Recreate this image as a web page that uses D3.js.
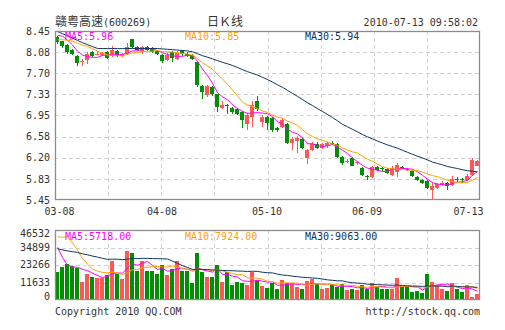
<!DOCTYPE html>
<html><head><meta charset="utf-8">
<script src="https://cdn.jsdelivr.net/npm/d3@7"></script>
<style>body{margin:0;background:#fff}svg{display:block}</style>
</head><body><svg id="c" width="505" height="330"></svg>
<script>
// ---------- data ----------
const open  = [8.34,8.27,8.20,8.11,8.00,7.91,7.93,8.08,8.04,8.03,8.07,8.00,8.10,8.00,8.05,8.31,8.17,8.07,8.16,8.14,
               8.10,8.02,7.93,8.08,7.95,8.10,8.05,8.02,7.90,7.47,7.31,7.45,7.33,7.09,7.13,7.08,7.06,7.01,6.80,6.93,
               7.20,6.84,6.92,6.90,6.72,6.75,6.80,6.46,6.49,6.53,6.20,6.34,6.45,6.38,6.40,6.47,6.45,6.21,6.13,6.20,
               6.10,6.02,5.88,5.86,6.04,6.01,6.00,5.90,5.95,6.04,6.00,5.96,5.86,5.80,5.78,5.62,5.66,5.72,5.76,5.72,
               5.83,5.82,5.80,5.89,6.06];
const high  = [8.36,8.28,8.22,8.13,8.02,7.96,8.08,8.10,8.09,8.08,8.09,8.19,8.12,8.06,8.23,8.31,8.19,8.19,8.18,8.16,
               8.12,8.04,8.06,8.10,8.09,8.12,8.07,8.04,7.92,7.49,7.49,7.48,7.34,7.20,7.15,7.10,7.08,7.03,7.00,7.20,
               7.30,6.96,6.95,6.92,6.75,6.90,6.82,6.56,6.58,6.55,6.36,6.48,6.48,6.47,6.48,6.50,6.46,6.23,6.17,6.21,
               6.15,6.03,5.90,6.06,6.06,6.04,6.02,6.05,6.10,6.06,6.02,5.98,5.88,5.82,5.80,5.75,5.76,5.78,5.77,5.88,
               5.85,5.84,5.91,6.19,6.16];
const low   = [8.22,8.15,8.04,8.02,7.82,7.82,7.86,7.98,8.02,8.01,7.96,7.98,7.98,7.99,8.03,8.15,8.09,8.05,8.09,8.06,
               8.02,7.89,7.91,7.90,7.93,8.01,7.99,7.93,7.46,7.25,7.28,7.30,7.01,7.07,6.97,6.97,6.96,6.73,6.69,6.75,
               7.03,6.75,6.70,6.66,6.65,6.72,6.44,6.33,6.29,6.35,6.09,6.32,6.35,6.36,6.38,6.43,6.20,6.08,6.10,6.05,
               6.08,5.87,5.80,5.84,5.96,5.97,5.91,5.88,5.85,6.00,5.96,5.86,5.78,5.74,5.64,5.45,5.64,5.70,5.62,5.70,
               5.77,5.76,5.78,5.88,6.05];
const close = [8.26,8.18,8.07,8.05,7.89,7.92,8.05,8.00,8.05,8.06,7.97,8.11,8.00,8.04,8.17,8.17,8.11,8.16,8.12,8.08,
               8.05,7.91,8.02,7.97,8.06,8.04,8.01,7.96,7.49,7.37,7.47,7.33,7.10,7.14,7.11,7.02,6.98,6.87,6.96,7.14,
               7.06,6.93,6.82,6.69,6.70,6.87,6.46,6.53,6.55,6.37,6.34,6.45,6.38,6.44,6.46,6.45,6.22,6.10,6.15,6.06,
               6.12,5.89,5.86,6.04,5.98,6.00,5.93,6.02,6.07,6.03,5.98,5.88,5.80,5.76,5.66,5.70,5.74,5.76,5.70,5.82,
               5.80,5.80,5.88,6.16,6.14];
const volume = [18700,21700,23900,22600,21500,12200,17300,15500,14900,14900,16500,26000,17600,14100,32600,31200,19300,25900,19300,19300,
                17600,23100,16600,20800,25900,19300,19300,11500,31500,18700,15500,15500,23300,12100,18600,10000,12000,11500,10000,18900,
                13000,9300,8200,11000,7400,13300,11000,11300,8800,7400,12600,14100,10700,7200,8200,10800,8900,10800,6700,7300,
                6700,10000,7300,11500,8900,7300,7300,7400,14900,8400,8400,5500,6000,4900,17300,12200,10000,7300,6200,11500,
                7300,5500,9800,2200,3800];
// closes and volumes of the 29 sessions before the window (feed the moving averages)
const priorClose = [9.30,9.25,9.20,9.18,9.12,9.08,9.05,9.02,
                    8.10,8.02,8.08,8.04,8.06,8.12,8.15,8.13,8.14,8.10,8.08,8.06,
                    8.15,8.20,8.18,8.25,8.28,8.26,8.42,8.48,8.45];
const priorVolume = [42000,45000,38000,36000,40000,37000,41000,35000,39000,38100,
                     21000,19500,22500,20000,23000,18500,21500,20000,22400,20500,
                     24000,23000,62000,70000,66000,55000,50000,28000,23300];
const xTickIndex  = [0,21,42,62,84];
const xTickLabels = ["03-08","04-08","05-10","06-09","07-13"];
const priceTicks  = [8.45,8.075,7.70,7.325,6.95,6.575,6.20,5.825,5.45];
const priceTickLabels = ["8.45","8.08","7.70","7.33","6.95","6.58","6.20","5.83","5.45"];
const volTicks = [46532,34899,23266,11633,0];
const maPeriods = [5,10,30];
const priceMALabels = ["MA5:5.96","MA10:5.85","MA30:5.94"];
const volMALabels = ["MA5:5718.00","MA10:7924.00","MA30:9063.00"];
const title = "赣粤高速(600269)";
const kLabel = "日Ｋ线";
const stamp = "2010-07-13 09:58:02";

// ---------- layout ----------
const L = 55, R = 480, pT = 31, pB = 200, vT = 230, vB = 300;
const RED = "#ff5757", GREEN = "#008f00";
const maColors = ["#ff00ff", "#ffa200", "#0e3563"];
const GRID = "#d2d2d2", FRAME = "#8c8c8c", TXT = "#333";
const FONT = "'DejaVu Sans Mono', monospace";

const svg = d3.select("#c");
const n = close.length;
const x = d3.scaleBand().domain(d3.range(n)).range([L, R]).paddingInner(0.2).paddingOuter(0.1).align(0);
const cx = i => Math.floor(x(i) + x.bandwidth() / 2) + 0.5;
const y = d3.scaleLinear().domain([5.45, 8.45]).range([pB, pT]);
const yv = d3.scaleLinear().domain([0, 46532]).range([vB, vT]);

function movingAvg(series, prior, p) {
  const all = prior.concat(series), off = prior.length;
  return series.map((_, i) => d3.mean(all.slice(off + i - p + 1, off + i + 1)));
}

const defs = svg.append("defs");
defs.append("clipPath").attr("id", "cp").append("rect").attr("x", L).attr("y", pT).attr("width", R - L).attr("height", pB - pT);
defs.append("clipPath").attr("id", "cv").append("rect").attr("x", L).attr("y", vT).attr("width", R - L).attr("height", vB - vT);

// grid
const vgrid = d3.range(1, 8).map(k => L + k * (R - L) / 8);
function grids(top, bot, ys) {
  const g = svg.append("g").attr("stroke", GRID).attr("stroke-dasharray", "4,3").attr("shape-rendering", "crispEdges");
  ys.forEach(v => g.append("line").attr("x1", L).attr("x2", R).attr("y1", Math.round(v) + 0.5).attr("y2", Math.round(v) + 0.5));
  vgrid.forEach(v => g.append("line").attr("x1", Math.round(v) + 0.5).attr("x2", Math.round(v) + 0.5).attr("y1", top).attr("y2", bot));
}
grids(pT, pB, priceTicks.slice(1, -1).map(y));
grids(vT, vB, volTicks.slice(1, -1).map(yv));

// candles
const cg = svg.append("g").attr("clip-path", "url(#cp)").attr("shape-rendering", "crispEdges");
d3.range(n).forEach(i => {
  const up = close[i] >= open[i], col = up ? RED : GREEN;
  cg.append("line").attr("x1", cx(i)).attr("x2", cx(i)).attr("y1", y(high[i])).attr("y2", y(low[i])).attr("stroke", col);
  const t = y(Math.max(open[i], close[i])), b = y(Math.min(open[i], close[i]));
  cg.append("rect").attr("x", x(i)).attr("width", x.bandwidth()).attr("y", t).attr("height", Math.max(1, b - t)).attr("fill", col);
});
// volume bars
const vg = svg.append("g").attr("clip-path", "url(#cv)").attr("shape-rendering", "crispEdges");
d3.range(n).forEach(i => {
  const up = close[i] >= open[i];
  vg.append("rect").attr("x", x(i)).attr("width", x.bandwidth()).attr("y", yv(volume[i])).attr("height", vB - yv(volume[i])).attr("fill", up ? RED : GREEN);
});

// moving average lines
maPeriods.forEach((p, k) => {
  const pm = movingAvg(close, priorClose, p);
  svg.append("path").attr("clip-path", "url(#cp)").attr("fill", "none").attr("stroke", maColors[k]).attr("stroke-width", 1)
    .attr("d", d3.line().x((d, i) => cx(i)).y(d => y(d))(pm));
  const vm = movingAvg(volume, priorVolume, p);
  svg.append("path").attr("clip-path", "url(#cv)").attr("fill", "none").attr("stroke", maColors[k]).attr("stroke-width", 1)
    .attr("d", d3.line().x((d, i) => cx(i)).y(d => yv(d))(vm));
});

// frames
[[pT, pB], [vT, vB]].forEach(([t, b]) => svg.append("rect").attr("x", L + 0.5).attr("y", t + 0.5).attr("width", R - L - 1).attr("height", b - t - 1)
  .attr("fill", "none").attr("stroke", FRAME).attr("stroke-width", 1.3));

// axes
function styleAxis(g) {
  g.select(".domain").remove();
  g.selectAll("text").attr("fill", TXT).attr("font-family", FONT).attr("font-size", 10);
}
svg.append("g").attr("transform", `translate(${L - 5},0)`)
  .call(d3.axisLeft(y).tickValues(priceTicks).tickSize(0).tickPadding(0).tickFormat((d, i) => priceTickLabels[i]))
  .call(styleAxis);
const va = svg.append("g").attr("transform", `translate(${L - 5},0)`)
  .call(d3.axisLeft(yv).tickValues(volTicks).tickSize(0).tickPadding(0).tickFormat(d3.format("d")))
  .call(styleAxis);
va.selectAll(".tick").attr("transform", d => `translate(0,${Math.min(vB - 3.5, Math.max(vT + 3.5, yv(d)))})`);
const xa = svg.append("g").attr("transform", `translate(0,${pB + 8})`)
  .call(d3.axisBottom(x).tickValues(xTickIndex).tickSize(0).tickPadding(0).tickFormat((d, i) => xTickLabels[i]))
  .call(styleAxis);
xa.selectAll(".tick").attr("transform", d => {
  const c = x(d) + x.bandwidth() / 2;
  return `translate(${Math.min(483 - 14.5, Math.max(45 + 14.5, c))},0)`;
});

// texts
const txt = (s, xx, yy, col, anchor, size, fam) => svg.append("text").text(s).attr("x", xx).attr("y", yy)
  .attr("fill", col).attr("text-anchor", anchor || "start").attr("font-size", size || 10).attr("font-family", fam || FONT);
const CJK = "'Noto Sans CJK SC', " + FONT;
txt("赣粤高速", L, 26, TXT, "start", 12, "'Noto Sans CJK SC'");
txt(title.slice(4), L + 48, 26, TXT, "start", 10);
txt(kLabel, 207, 26, TXT, "start", 12, "'Noto Sans CJK SC'");
txt(stamp, 478, 26, TXT, "end", 10);
const maX = [65, 185, 305];
priceMALabels.forEach((s, k) => txt(s, maX[k], 40, maColors[k]));
volMALabels.forEach((s, k) => txt(s, maX[k], 240, maColors[k]));
txt("Copyright 2010 QQ.COM", L, 315, TXT);
txt("http://stock.qq.com", R, 315, TXT, "end");
</script></body></html>
